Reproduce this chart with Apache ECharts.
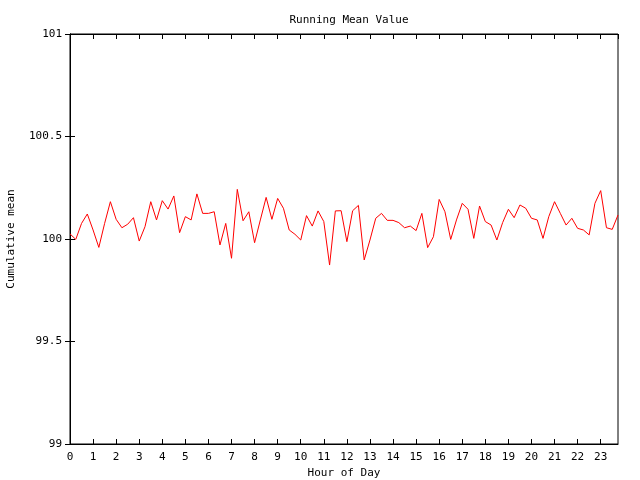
<!DOCTYPE html>
<html>
<head>
<meta charset="utf-8">
<script src="https://cdn.jsdelivr.net/npm/echarts@6/dist/echarts.min.js"></script>
<style>html,body{margin:0;padding:0;background:#fff}#c{width:640px;height:480px}</style>
</head>
<body>
<div id="c"></div>
<script>
// Hour of day sampled every 15 minutes (0 .. 23.75)
var hours = [];
for (var h = 0; h < 24; h++) { hours.push(h, h + 0.25, h + 0.5, h + 0.75); }

var meanValues = [
  100.025, 99.998, 100.076, 100.122, 100.044, 99.959, 100.076, 100.182,
  100.096, 100.055, 100.072, 100.104, 99.990, 100.060, 100.182, 100.093,
  100.187, 100.146, 100.210, 100.031, 100.109, 100.093, 100.220, 100.125,
  100.125, 100.133, 99.971, 100.076, 99.906, 100.242, 100.089, 100.133,
  99.982, 100.093, 100.203, 100.096, 100.198, 100.150, 100.044, 100.023,
  99.995, 100.114, 100.063, 100.137, 100.085, 99.873, 100.137, 100.138,
  99.987, 100.138, 100.164, 99.898, 99.995, 100.101, 100.125, 100.091,
  100.091, 100.080, 100.055, 100.063, 100.041, 100.125, 99.958, 100.011,
  100.193, 100.133, 99.998, 100.093, 100.174, 100.145, 100.003, 100.161,
  100.085, 100.068, 99.995, 100.080, 100.145, 100.104, 100.166, 100.150,
  100.101, 100.093, 100.003, 100.109, 100.182, 100.125, 100.068, 100.101,
  100.052, 100.044, 100.020, 100.174, 100.236, 100.055, 100.047, 100.117
];

var xTickLabels = ['0','1','2','3','4','5','6','7','8','9','10','11','12','13','14','15','16','17','18','19','20','21','22','23'];
var yTickLabels = ['99','99.5','100','100.5','101'];

var seriesData = hours.map(function (x, i) { return [x, meanValues[i]]; });

var FONT = 'DejaVu Sans Mono';
var txt = { fontFamily: FONT, fontSize: 11, color: '#000' };

var chart = echarts.init(document.getElementById('c'), null, { renderer: 'canvas' });
chart.setOption({
  backgroundColor: '#fff',
  animation: false,
  title: {
    text: 'Running Mean Value',
    left: 344, textAlign: 'center', top: 10,
    textStyle: { fontFamily: FONT, fontSize: 11, fontWeight: 'normal', color: '#000' }
  },
  grid: { left: 70, right: 22, top: 34, bottom: 36, containLabel: false, outerBoundsMode: 'none',
          show: true, borderColor: '#000', borderWidth: 1, backgroundColor: 'transparent' },
  xAxis: [{
    type: 'value', min: 0, max: 23.75, interval: 1,
    name: 'Hour of Day', nameLocation: 'middle', nameGap: 22,
    nameTextStyle: txt,
    axisLine: { show: true, lineStyle: { color: '#000', width: 1 } },
    axisTick: { show: true, inside: true, length: 5, lineStyle: { color: '#000' } },
    axisLabel: Object.assign({ margin: 8, showMaxLabel: false,
      formatter: function (v) { var k = Math.round(v); return (Math.abs(v - k) < 1e-6 && xTickLabels[k] !== undefined) ? xTickLabels[k] : ''; } }, txt),
    splitLine: { show: false }
  }, {
    type: 'value', min: 0, max: 23.75, interval: 1, position: 'top',
    axisLine: { show: true, lineStyle: { color: '#000', width: 1 } },
    axisTick: { show: true, inside: true, length: 5, lineStyle: { color: '#000' } },
    axisLabel: { show: false }, splitLine: { show: false }
  }],
  yAxis: [{
    type: 'value', min: 99, max: 101, interval: 0.5,
    name: 'Cumulative mean', nameLocation: 'middle', nameGap: 53,
    nameTextStyle: txt,
    axisLine: { show: true, lineStyle: { color: '#000', width: 1 } },
    axisTick: { show: true, inside: true, length: 5, lineStyle: { color: '#000' } },
    axisLabel: Object.assign({ margin: 8,
      formatter: function (v) { var k = Math.round((v - 99) / 0.5); return yTickLabels[k] !== undefined ? yTickLabels[k] : ''; } }, txt),
    splitLine: { show: false }
  }, {
    type: 'value', min: 99, max: 101, interval: 0.5, position: 'right',
    axisLine: { show: true, lineStyle: { color: '#000', width: 1 } },
    axisTick: { show: true, inside: true, length: 5, lineStyle: { color: '#000' } },
    axisLabel: { show: false }, splitLine: { show: false }
  }],
  series: [{
    type: 'line',
    xAxisIndex: 0, yAxisIndex: 0,
    data: seriesData,
    showSymbol: false, symbol: 'none',
    lineStyle: { color: '#ff0000', width: 1 },
    itemStyle: { color: '#ff0000' }
  }]
});
</script>
</body>
</html>
